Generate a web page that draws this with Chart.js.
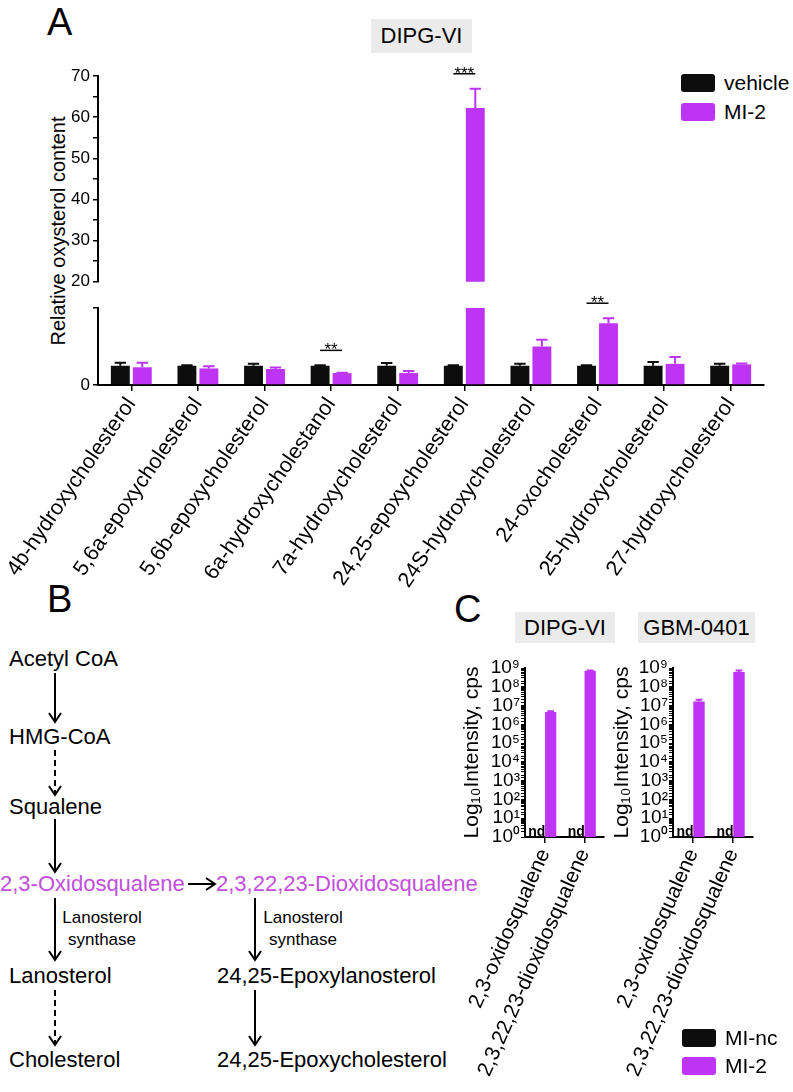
<!DOCTYPE html>
<html>
<head>
<meta charset="utf-8">
<script src="https://cdn.jsdelivr.net/npm/chart.js@4.4.0/dist/chart.umd.min.js"></script>
<style>
  body { margin: 0; width: 793px; height: 1092px; position: relative; background: #fff; overflow: hidden;
         font-family: "Liberation Sans", Arial, Helvetica, sans-serif; color: #000; }
  canvas { position: absolute; }
  .abs { position: absolute; white-space: nowrap; line-height: 1; }
  .panel { font-size: 38px; }
  .tbox { position: absolute; background: #ebebeb; font-size: 22px; text-align: center; }
  .leg { position: absolute; height: 18px; display: flex; align-items: center; font-size: 21px; white-space: nowrap; }
  .sw { width: 34px; height: 18px; border-radius: 3px; margin-right: 9px; }
  .pw { font-size: 22px; }
  .mag { color: #c24fdb; }
  .enz { font-size: 17px; width: 100px; text-align: center; }
</style>
</head>
<body>

<!-- letras de panel -->
<div class="abs panel" style="left:47px; top:3px;">A</div>
<div class="abs panel" style="left:47px; top:580px;">B</div>
<div class="abs panel" style="left:454px; top:590px;">C</div>

<!-- panel A -->
<div class="tbox" style="left:371px; top:19px; width:101px; height:34px; line-height:34px;">DIPG-VI</div>
<div class="abs" style="left:58px; top:231px; font-size:20px; transform:translate(-50%,-50%) rotate(-90deg);">Relative oxysterol content</div>
<div class="leg" style="left:681px; top:74px;"><div class="sw" style="background:#0d0d0d"></div>vehicle</div>
<div class="leg" style="left:681px; top:103px;"><div class="sw" style="background:#bd34f5"></div>MI-2</div>
<canvas id="graficaArriba" width="793" height="240" style="left:0; top:55px;"></canvas>
<canvas id="graficaAbajo" width="793" height="315" style="left:0; top:285px;"></canvas>

<!-- panel B: ruta -->
<svg class="abs" width="420" height="460" style="left:0; top:640px;" viewBox="0 640 420 460">
  <g stroke="#000" stroke-width="2" fill="none">
    <line x1="55" y1="673" x2="55" y2="721"/><polyline points="49,713 55,722 61,713"/>
    <line x1="55" y1="750" x2="55" y2="794" stroke-dasharray="6 4"/><polyline points="49,786 55,795 61,786"/>
    <line x1="55" y1="819" x2="55" y2="871"/><polyline points="49,863 55,872 61,863"/>
    <line x1="188" y1="884" x2="214" y2="884"/><polyline points="206,878 215,884 206,890"/>
    <line x1="55" y1="898" x2="55" y2="959"/><polyline points="49,951 55,960 61,951"/>
    <line x1="55" y1="990" x2="55" y2="1044" stroke-dasharray="6 4"/><polyline points="49,1036 55,1045 61,1036"/>
    <line x1="255" y1="898" x2="255" y2="959"/><polyline points="249,951 255,960 261,951"/>
    <line x1="255" y1="990" x2="255" y2="1044"/><polyline points="249,1036 255,1045 261,1036"/>
  </g>
</svg>
<div class="abs pw" style="left:9px; top:648px;">Acetyl CoA</div>
<div class="abs pw" style="left:9px; top:726px;">HMG-CoA</div>
<div class="abs pw" style="left:9px; top:796px;">Squalene</div>
<div class="abs pw mag" style="left:0px; top:873px;">2,3-Oxidosqualene</div>
<div class="abs pw mag" style="left:216px; top:873px;">2,3,22,23-Dioxidosqualene</div>
<div class="abs enz" style="left:52px; top:909px;">Lanosterol</div>
<div class="abs enz" style="left:52px; top:931px;">synthase</div>
<div class="abs enz" style="left:253px; top:909px;">Lanosterol</div>
<div class="abs enz" style="left:253px; top:931px;">synthase</div>
<div class="abs pw" style="left:9px; top:965px;">Lanosterol</div>
<div class="abs pw" style="left:9px; top:1049px;">Cholesterol</div>
<div class="abs pw" style="left:217px; top:965px;">24,25-Epoxylanosterol</div>
<div class="abs pw" style="left:217px; top:1049px;">24,25-Epoxycholesterol</div>

<!-- panel C -->
<div class="tbox" style="left:515px; top:612px; width:100px; height:31px; line-height:32px;">DIPG-VI</div>
<div class="tbox" style="left:638px; top:612px; width:117px; height:31px; line-height:32px;">GBM-0401</div>
<canvas id="graficaDipg" width="155" height="447" style="left:460px; top:645px;"></canvas>
<canvas id="graficaGbm" width="183" height="447" style="left:610px; top:645px;"></canvas>
<div class="leg" style="left:682px; top:1029px;"><div class="sw" style="background:#0d0d0d"></div>MI-nc</div>
<div class="leg" style="left:682px; top:1057px;"><div class="sw" style="background:#bd34f5"></div>MI-2</div>

<script>
  //Datos grafica A (oxisteroles)
  const oxysterols = ["4b-hydroxycholesterol", "5,6a-epoxycholesterol", "5,6b-epoxycholesterol",
    "6a-hydroxycholestanol", "7a-hydroxycholesterol", "24,25-epoxycholesterol",
    "24S-hydroxycholesterol", "24-oxocholesterol", "25-hydroxycholesterol", "27-hydroxycholesterol"]
  const vehicle    = [1.00, 1.00, 1.00, 1.00, 1.00, 1.00, 1.00, 1.00, 1.00, 1.00]
  const vehicleErr = [0.16, 0.02, 0.10, 0.02, 0.14, 0.02, 0.10, 0.02, 0.19, 0.10]
  const mi2        = [0.92, 0.86, 0.83, 0.62, 0.62, 62.2, 2.00, 3.21, 1.10, 1.07]
  const mi2Err     = [0.23, 0.12, 0.08, 0.02, 0.11, 4.70, 0.35, 0.26, 0.35, 0.05]
  const sigMarks   = ["", "", "", "**", "", "***", "", "**", "", ""]
  const lowerTicks = [0, 4]
  const upperTicks = [20, 30, 40, 50, 60, 70]

  //Datos grafica C (escualenos)
  const squalenes  = ["2,3-oxidosqualene", "2,3,22,23-dioxidosqualene"]
  const dipgNc     = [null, null]
  const dipgMi2    = [4.6e6, 7.1e8]
  const dipgMi2Err = [0.3e6, 0.35e8]
  const gbmNc      = [null, null]
  const gbmMi2     = [1.66e7, 6.2e8]
  const gbmMi2Err  = [0.38e7, 1.05e8]

  const colorNegro = '#0d0d0d'
  const colorMagenta = '#bd34f5'
  const fuente = '"Liberation Sans", Arial, sans-serif'
  Chart.defaults.font.family = fuente
  Chart.defaults.color = '#000'

  // barras de error, asteriscos y "nd"
  const errPlugin = {
    id: 'errPlugin',
    afterDatasetsDraw(chart, args, opts) {
      const ctx = chart.ctx
      const y = chart.scales.y
      const tops = []
      ctx.save()
      chart.data.datasets.forEach((ds, di) => {
        const meta = chart.getDatasetMeta(di)
        meta.data.forEach((bar, i) => {
          const v = ds.data[i]
          tops[i] = tops[i] || []
          if (v == null) {
            if (ds.ndText) {
              ctx.fillStyle = '#000'
              ctx.font = 'bold 14px ' + fuente
              ctx.textAlign = 'center'
              ctx.textBaseline = 'alphabetic'
              ctx.fillText(ds.ndText, bar.x - 2, y.bottom - 1)
            }
            return
          }
          if (!ds.errors) return
          const top = v + ds.errors[i]
          tops[i].push(top)
          if (v > y.max || v < y.min) return
          const p0 = y.getPixelForValue(v), p1 = y.getPixelForValue(top)
          const half = bar.width * 0.3
          ctx.strokeStyle = ds.backgroundColor
          ctx.lineWidth = 2
          ctx.beginPath()
          ctx.moveTo(bar.x, p0); ctx.lineTo(bar.x, p1)
          ctx.moveTo(bar.x - half, p1); ctx.lineTo(bar.x + half, p1)
          ctx.stroke()
        })
      })
      const sig = (opts && opts.sig) || []
      sig.forEach((s, i) => {
        if (!s || !tops[i] || !tops[i].length) return
        const maxTop = Math.max(...tops[i])
        if (maxTop > y.max) return
        const a = chart.getDatasetMeta(0).data[i], b = chart.getDatasetMeta(1).data[i]
        const ly = y.getPixelForValue(maxTop) - 15
        ctx.strokeStyle = '#000'
        ctx.lineWidth = 1.5
        ctx.beginPath(); ctx.moveTo(a.x, ly); ctx.lineTo(b.x, ly); ctx.stroke()
        ctx.fillStyle = '#000'
        ctx.font = '17px ' + fuente
        ctx.textAlign = 'center'
        ctx.textBaseline = 'alphabetic'
        ctx.fillText(s, (a.x + b.x) / 2, ly + 5)
      })
      ctx.restore()
    }
  }

  const ejeNegro = { color: '#000', width: 2 }
  const gridTicks = { drawOnChartArea: false, color: '#000', lineWidth: 1.5, tickLength: 5, offset: false }

  // alto fijo del eje x, sin que las etiquetas giradas muevan el area del grafico
  let ejeXFijo = function (alto) {
    return function (s) { s.height = alto; s.paddingLeft = 0; s.paddingRight = 0 }
  }

  ////////////////////////////////// GRAFICA A - parte de arriba (20-70) //////////////////////////////////
  const upperMin = upperTicks[0]
  new Chart(document.querySelector('#graficaArriba'), {
    type: 'bar',
    data: {
      labels: oxysterols,
      datasets: [
        { label: 'vehicle', data: vehicle.map(v => v > upperMin ? v : null), backgroundColor: colorNegro, errors: vehicleErr },
        { label: 'MI-2', data: mi2.map(v => v > upperMin ? v : null), backgroundColor: colorMagenta, errors: mi2Err }
      ]
    },
    options: {
      responsive: false, animation: false,
      layout: { padding: { top: 21, bottom: 7, left: 0, right: 29 } },
      datasets: { bar: { categoryPercentage: 0.66, barPercentage: 0.86 } },
      plugins: { legend: { display: false }, tooltip: { enabled: false }, errPlugin: { sig: sigMarks } },
      scales: {
        x: { display: false },
        y: {
          min: upperMin, max: upperTicks[upperTicks.length - 1],
          afterFit(s) { s.width = 98 },
          ticks: { stepSize: 5, autoSkip: false, padding: 3, font: { size: 17 },
                   callback: v => upperTicks.includes(v) ? v : '' },
          grid: gridTicks, border: ejeNegro
        }
      }
    },
    plugins: [errPlugin]
  })

  ////////////////////////////////// GRAFICA A - parte de abajo (0-4) //////////////////////////////////
  new Chart(document.querySelector('#graficaAbajo'), {
    type: 'bar',
    data: {
      labels: oxysterols,
      datasets: [
        { label: 'vehicle', data: vehicle, backgroundColor: colorNegro, errors: vehicleErr, clip: 0 },
        { label: 'MI-2', data: mi2, backgroundColor: colorMagenta, errors: mi2Err, clip: 0 }
      ]
    },
    options: {
      responsive: false, animation: false,
      layout: { padding: { top: 23, bottom: 0, left: 0, right: 29 } },
      datasets: { bar: { categoryPercentage: 0.66, barPercentage: 0.86 } },
      plugins: { legend: { display: false }, tooltip: { enabled: false }, errPlugin: { sig: sigMarks } },
      scales: {
        x: {
          afterFit: ejeXFijo(215),
          ticks: { autoSkip: false, minRotation: 55.5, maxRotation: 55.5, padding: 2, font: { size: 21.5 } },
          grid: Object.assign({}, gridTicks, { tickLength: 6 }), border: ejeNegro
        },
        y: {
          min: lowerTicks[0], max: lowerTicks[1],
          afterFit(s) { s.width = 98 },
          ticks: { stepSize: 4, padding: 3, font: { size: 17 }, callback: v => v === 0 ? '0' : '' },
          grid: gridTicks, border: ejeNegro
        }
      }
    },
    plugins: [errPlugin]
  })

  ////////////////////////////////// GRAFICAS C (log) //////////////////////////////////
  const sup = '⁰¹²³⁴⁵⁶⁷⁸⁹'
  let etiquetaLog = function (v) {
    const e = Math.log10(v)
    if (Math.abs(e - Math.round(e)) > 1e-9) return ''
    return '10' + String(Math.round(e)).split('').map(d => sup[d]).join('')
  }

  let graficaLog = function (canvas, nc, mi2v, mi2e, ancho, derecha) {
    new Chart(canvas, {
      type: 'bar',
      data: {
        labels: squalenes,
        datasets: [
          { label: 'MI-nc', data: nc, backgroundColor: colorNegro, ndText: 'nd' },
          { label: 'MI-2', data: mi2v, backgroundColor: colorMagenta, errors: mi2e }
        ]
      },
      options: {
        responsive: false, animation: false,
        layout: { padding: { top: 23, bottom: 0, left: 0, right: derecha } },
        datasets: { bar: { categoryPercentage: 0.6, barPercentage: 0.95 } },
        plugins: { legend: { display: false }, tooltip: { enabled: false } },
        scales: {
          x: {
            afterFit: ejeXFijo(255),
            ticks: { autoSkip: false, minRotation: 66, maxRotation: 66, padding: 2, font: { size: 21 } },
            grid: Object.assign({}, gridTicks, { tickLength: 6 }), border: ejeNegro
          },
          y: {
            type: 'logarithmic', min: 1, max: 1e9,
            afterFit(s) { s.width = ancho },
            title: { display: true, text: 'Log₁₀Intensity, cps', font: { size: 21 }, color: '#000', padding: { top: 0, bottom: 0 } },
            ticks: { autoSkip: false, padding: 1, font: { size: 19 }, callback: etiquetaLog },
            grid: Object.assign({}, gridTicks, { lineWidth: 1, tickLength: 4 }), border: ejeNegro
          }
        }
      },
      plugins: [errPlugin]
    })
  }

  graficaLog(document.querySelector('#graficaDipg'), dipgNc, dipgMi2, dipgMi2Err, 65, 11)
  graficaLog(document.querySelector('#graficaGbm'), gbmNc, gbmMi2, gbmMi2Err, 63, 40)
</script>
</body>
</html>
